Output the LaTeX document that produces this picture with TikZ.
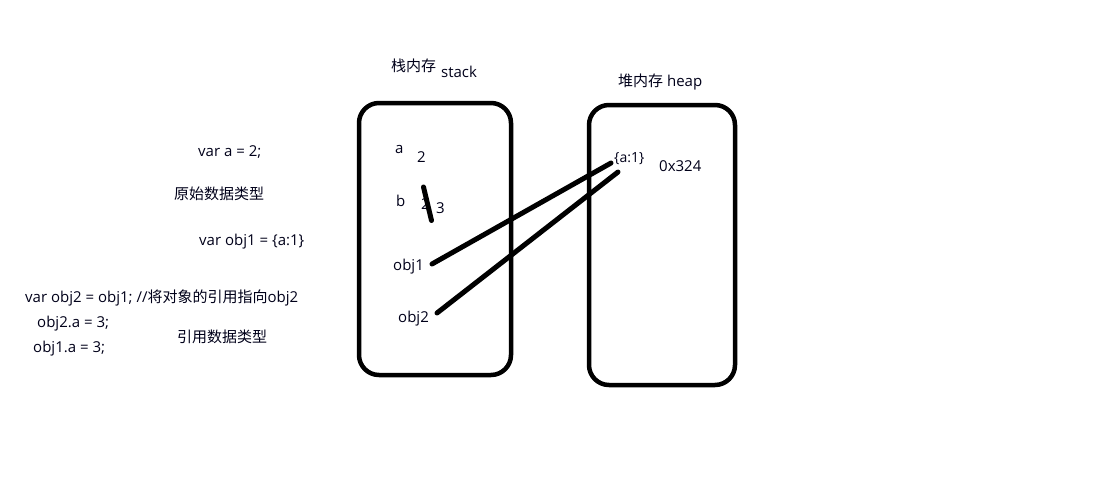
\documentclass[tikz,border=0pt]{standalone}
\usepackage{fontspec}
\setmainfont{Open Sans}
\newfontfamily\cjk{Noto Sans CJK SC}
\newcommand{\zh}[1]{{\cjk\fontsize{15}{17}\selectfont #1}}
\begin{document}
\begin{tikzpicture}[x=1pt,y=-1pt,
  txt/.style={inner sep=0pt,anchor=west,font=\fontsize{15}{17}\selectfont,text=black!90!blue},
  memory/.style={draw=black,line width=4.5pt,rounded corners=20pt},
  link/.style={draw=black,line width=5pt,line cap=round}]
\useasboundingbox (0,0) rectangle (1094,491);
% boxes
\node[memory,minimum width=152pt,minimum height=272pt,inner sep=0pt] (stack) at (435,239) {};
\node[memory,minimum width=146pt,minimum height=280pt,inner sep=0pt] (heap) at (662,245) {};
% titles
\node[txt] (stt) at (391,66) {\zh{栈内存}};
\node[txt] (ste) at (441,72) {stack};
\node[txt] (hpt) at (618,82) {\zh{堆内存} heap};
% stack content
\node[txt] (a) at (395,149) {a};
\node[txt] (av) at (417,157) {2};
\node[txt] (b) at (396,201) {b};
\node[txt] (bold) at (421,204) {2};
\node[txt] (bv) at (436,208) {3};
\node[txt] (obj1) at (393,267) {obj1};
\node[txt] (obj2) at (398,319) {obj2};
% heap content
\node[txt,font=\fontsize{14}{16}\selectfont] (objv) at (614,159) {\{a:1\}};
\node[txt] (addr) at (659,166) {0x324};
% left code
\node[txt] (c1) at (198,152) {var a = 2;};
\node[txt] (c2) at (174,194) {\zh{原始数据类型}};
\node[txt] (c3) at (199,242) {var obj1 = \{a:1\}};
\node[txt] (c4) at (25,298) {var obj2 = obj1; //\zh{将对象的引用指向}obj2};
\node[txt] (c5) at (37,324) {obj2.a = 3;};
\node[txt] (c6) at (177,337) {\zh{引用数据类型}};
\node[txt] (c7) at (33,349) {obj1.a = 3;};
% connectors
\coordinate (s1) at (423.5,187);
\coordinate (s2) at (431.5,220.5);
\draw[link] (s1) -- (s2);
\coordinate (o1e) at (432,264);
\coordinate (v1e) at (611,163);
\coordinate (o2e) at (437,313);
\coordinate (v2e) at (618,172);
\draw[link] (o1e) -- (v1e);
\draw[link] (o2e) -- (v2e);
\end{tikzpicture}
\end{document}
